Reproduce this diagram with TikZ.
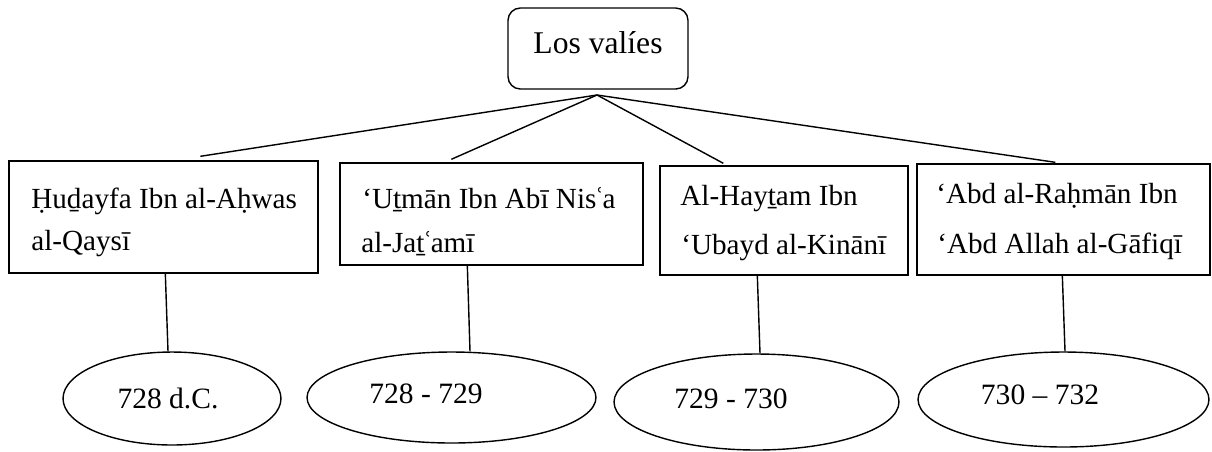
\documentclass[tikz,border=0pt]{standalone}
\usepackage{fontspec}
\setmainfont{Liberation Serif}
\usetikzlibrary{shapes.geometric,calc}
\newcommand{\ayn}{\kern-0.06emʿ\kern-0.06em}
\begin{document}
\begin{tikzpicture}[x=0.02cm,y=-0.02cm,
  conn/.style={draw=black,line width=0.8pt},
  topbox/.style={draw=black,line width=0.8pt,rounded corners=7pt,inner sep=0pt,minimum width=3.6cm,minimum height=1.62cm},
  namebox/.style={draw=black,line width=0.8pt,inner sep=0pt},
  oval/.style={draw=black,line width=0.8pt,ellipse,inner sep=0pt},
  txt/.style={anchor=base west,inner sep=0pt,font=\fontsize{16.6}{20}\selectfont},
  ytxt/.style={anchor=base,inner sep=0pt,font=\fontsize{16.8}{20}\selectfont}]
\useasboundingbox (0,0) rectangle (1212,451);
% top
\node[topbox] (top) at (598,48.5) {};
\node[anchor=base,inner sep=0pt,font=\fontsize{18}{22}\selectfont] (toptxt) at (598,53) {Los valíes};
\coordinate (apex) at (597,95);
% boxes
\node[namebox,minimum width=6.18cm,minimum height=2.24cm] (b1) at (163.5,217) {};
\node[namebox,minimum width=6.06cm,minimum height=2.04cm] (b2) at (491.5,214) {};
\node[namebox,minimum width=4.96cm,minimum height=2.18cm] (b3) at (784,220.5) {};
\node[namebox,minimum width=5.86cm,minimum height=2.22cm] (b4) at (1063.5,219.5) {};
\node[txt] (b1a) at (31,208) {Ḥuḏayfa Ibn al-Aḥwas};
\node[txt] (b1b) at (31,250) {al-Qaysī};
\node[txt] (b2a) at (362,208) {‘Uṯmān Ibn Abī Nis\ayn a};
\node[txt] (b2b) at (361,252) {al-Jaṯ\ayn amī};
\node[txt] (b3a) at (680,205) {Al-Hayṯam Ibn};
\node[txt] (b3b) at (681,254) {‘Ubayd al-Kinānī};
\node[txt] (b4a) at (936,203) {‘Abd al-Raḥmān Ibn};
\node[txt] (b4b) at (937,253) {‘Abd Allah al-Gāfiqī};
% ellipses
\node[oval,minimum width=4.36cm,minimum height=1.86cm] (e1) at (172,398.5) {};
\node[oval,minimum width=5.78cm,minimum height=1.82cm] (e2) at (451.5,397.5) {};
\node[oval,minimum width=5.70cm,minimum height=1.92cm] (e3) at (756.5,402) {};
\node[oval,minimum width=5.82cm,minimum height=1.90cm] (e4) at (1063.5,399.5) {};
\node[ytxt] (e1t) at (168,408) {728 d.C.};
\node[ytxt] (e2t) at (426,403) {728 - 729};
\node[ytxt] (e3t) at (731,408) {729 - 730};
\node[ytxt] (e4t) at (1040,404) {730 – 732};
% connectors top
\draw[conn] (apex) -- ($(b1.north west)+(192,-4)$);
\draw[conn] (apex) -- ($(b2.north west)+(112,-3)$);
\draw[conn] (apex) -- ($(b3.north west)+(64,-2)$);
\draw[conn] (apex) -- ($(b4.north west)+(139,-1)$);
% connectors bottom
\draw[conn] ($(b1.south west)+(157,0)$) -- ($(e1.north)+(-4,0)$);
\draw[conn] ($(b2.south west)+(128,0)$) -- ($(e2.north)+(18.5,0)$);
\draw[conn] ($(b3.south west)+(98,0)$) -- ($(e3.north)+(3.5,0)$);
\draw[conn] ($(b4.south west)+(146,0)$) -- ($(e4.north)+(1.5,0)$);
\end{tikzpicture}
\end{document}
